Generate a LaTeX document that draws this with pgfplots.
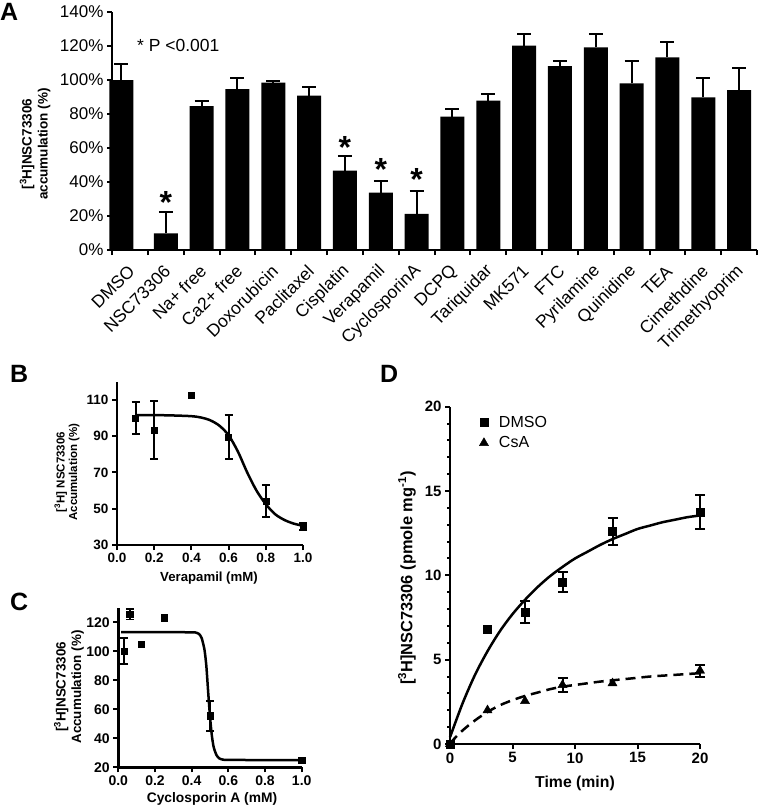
\documentclass[border=0pt]{standalone}
\usepackage{pgfplots}
\pgfplotsset{compat=1.18}
\usepackage{fontspec}
\setmainfont{Liberation Sans}
\newcommand\fs[1]{\fontsize{#1}{#1}\selectfont}
\begin{document}
\begin{tikzpicture}
\useasboundingbox (0pt,0pt) rectangle (760pt,-806pt);
\pgfplotsset{
  gp/.style={scale only axis, anchor=south west, axis lines=left,
    axis line style={-, line width=2.4pt, black},
    tick align=outside, major tick length=5pt, minor tick length=3pt,
    tick style={line width=2pt, black},
    /pgf/number format/assume math mode=true, clip=false},
}
% ---------------- Panel A ----------------
\begin{axis}[gp, at={(112pt,-250pt)}, width=645pt, height=238pt,
  xmin=-0.5, xmax=17.5, ymin=0, ymax=140,
  ytick={0,20,40,60,80,100,120,140},
  yticklabels={0\%,20\%,40\%,60\%,80\%,100\%,120\%,140\%},
  xtick={-0.5,0.5,1.5,2.5,3.5,4.5,5.5,6.5,7.5,8.5,9.5,10.5,11.5,12.5,13.5,14.5,15.5,16.5,17.5},
  xticklabels={DMSO,NSC73306,Na+ free,Ca2+ free,Doxorubicin,Paclitaxel,Cisplatin,Verapamil,CyclosporinA,DCPQ,Tariquidar,MK571,FTC,Pyrilamine,Quinidine,TEA,Cimethdine,Trimethyoprim,{}},
  yticklabel style={font=\fs{17}},
  xticklabel style={font=\fs{17.5}, xshift=22pt, yshift=-11pt, rotate=45, anchor=east},
]
\addplot[ybar, bar width=24pt, fill=black, draw=none,
  error bars/.cd, y dir=plus, y explicit,
  error bar style={line width=2pt, draw=black},
  error mark options={rotate=90, draw=black, line width=2pt, mark size=7pt}]
coordinates {
(-0.24,100) +- (0,9.4)
(1,9.8) +- (0,12.5)
(2,84.7) +- (0,3)
(3,94.7) +- (0,6.3)
(4,98.5) +- (0,1.2)
(5,90.8) +- (0,5.3)
(6,46.7) +- (0,8.6)
(7,33.7) +- (0,7.1)
(8,21.2) +- (0,13.5)
(9,78.4) +- (0,4.5)
(10,87.8) +- (0,4.2)
(11,120.2) +- (0,6.7)
(12,108.2) +- (0,3)
(13,119.2) +- (0,7.7)
(14,98) +- (0,13.2)
(15,113.3) +- (0,9.2)
(16,89.8) +- (0,11.4)
(17,94.1) +- (0,13.2)
};
\node[font=\bfseries\fs{32}, inner sep=0, anchor=base] at (axis cs:1,21.6) {*};
\node[font=\bfseries\fs{32}, inner sep=0, anchor=base] at (axis cs:6,53.9) {*};
\node[font=\bfseries\fs{32}, inner sep=0, anchor=base] at (axis cs:7,41) {*};
\node[font=\bfseries\fs{32}, inner sep=0, anchor=base] at (axis cs:8,35.2) {*};
\end{axis}
% ---------------- Panel B ----------------
\begin{axis}[gp, at={(117pt,-545pt)}, width=186pt, height=163.3pt,
  xmin=0, xmax=1, ymin=30, ymax=120,
  xtick={0,0.2,0.4,0.6,0.8,1}, xticklabels={0.0,0.2,0.4,0.6,0.8,1.0},
  ytick={30,50,70,90,110},
  tick label style={font=\bfseries\fs{13.5}},
]
\addplot[line width=2.5pt, smooth, black] coordinates {
(0.1,101.6) (0.2,101.6) (0.3,101.4) (0.4,101) (0.45,100.3) (0.5,98.8) (0.55,95.8)
(0.6,90.5) (0.65,81.5) (0.7,70) (0.75,60) (0.8,52.5) (0.85,47) (0.9,43.8) (0.95,41.8) (1.0,40.6)};
\addplot[only marks, mark=square*, mark size=3pt, black,
  error bars/.cd, y dir=both, y explicit,
  error bar style={line width=2pt}, error mark options={rotate=90, line width=2pt, mark size=4pt}]
coordinates {(0.1,100) +- (0,9) (0.2,93.4) +- (0,16.2) (0.6,89.5) +- (0,12) (0.8,54.2) +- (0,9) (1,40.1) +- (0,2)};
\addplot[only marks, mark=square*, mark size=3pt, black] coordinates {(0.4,112.3)};
\end{axis}
% ---------------- Panel C ----------------
\begin{axis}[gp, at={(118.3pt,-767.3pt)}, width=183.4pt, height=159.5pt,
  xmin=0, xmax=1, ymin=20, ymax=130,
  xtick={0,0.2,0.4,0.6,0.8,1}, xticklabels={0.0,0.2,0.4,0.6,0.8,1.0},
  ytick={20,40,60,80,100,120},
  tick label style={font=\bfseries\fs{14}},
]
\addplot[line width=2.5pt, smooth, tension=0.4, black] coordinates {
(0.015,113.2) (0.1,113.2) (0.2,113.2) (0.3,113.2) (0.4,113.1) (0.42,113) (0.44,112) (0.455,109)
(0.47,101) (0.48,90) (0.49,72) (0.5,55) (0.51,42) (0.52,34) (0.535,28.5) (0.55,26.2) (0.57,25.3)
(0.6,25.1) (0.8,25) (1,25)};
\addplot[only marks, mark=square*, mark size=3.3pt, black,
  error bars/.cd, y dir=both, y explicit,
  error bar style={line width=1.8pt}, error mark options={rotate=90, line width=1.8pt, mark size=4pt}]
coordinates {(0.03125,100) +- (0,9) (0.0625,125.5) +- (0,3.5) (0.5,55.4) +- (0,10.5)};
\addplot[only marks, mark=square*, mark size=3.3pt, black] coordinates {(0.125,104.8) (0.25,123.2) (1,25)};
\end{axis}
% ---------------- Panel D ----------------
\begin{axis}[gp, at={(450pt,-744pt)}, width=250pt, height=337.3pt,
  xmin=0, xmax=20, ymin=0, ymax=20,
  xtick={0,5,10,15,20}, ytick={0,5,10,15,20}, minor y tick num=4,
  tick label style={font=\bfseries\fs{15}},
  legend style={at={(axis cs:2.3,19.58)}, anchor=north west, draw=none, fill=none,
    font=\fs{16}, row sep=4pt, inner sep=0pt},
  legend cell align=left,
  legend image code/.code={\draw[#1] plot coordinates {(5pt,0pt)}; \path[draw=none,fill=none] (0pt,0pt) -- (18pt,0pt);},
]
\addplot[line width=2.5pt, smooth, black, forget plot] coordinates {
(0,0.4) (1,2.4) (2,4.1) (3,5.5) (4,6.7) (5,7.7) (6,8.55) (7,9.3) (8,9.95) (9,10.5) (10,11.0)
(11,11.4) (12,11.8) (13,12.15) (14,12.45) (15,12.75) (16,12.95) (17,13.15) (18,13.3) (19,13.45) (20,13.55)};
\addplot[line width=2.5pt, smooth, black, dash pattern=on 10pt off 6pt, forget plot] coordinates {
(0,0.05) (1,0.8) (2,1.4) (3,1.9) (4,2.3) (5,2.6) (6,2.85) (7,3.05) (8,3.25) (9,3.4) (10,3.5)
(12,3.7) (14,3.85) (16,4.0) (18,4.1) (20,4.2)};
\addplot[only marks, mark=square*, mark size=4pt, black,
  error bars/.cd, y dir=both, y explicit,
  error bar style={line width=2pt}, error mark options={rotate=90, line width=2pt, mark size=5pt}]
coordinates {(6,7.8) +- (0,0.65) (9,9.62) +- (0,0.6) (13,12.59) +- (0,0.8) (20,13.74) +- (0,1)};
\addlegendentry{DMSO}
\addplot[only marks, mark=square*, mark size=4pt, black, forget plot] coordinates {(0,0) (3,6.82)};
\addplot[only marks, mark=triangle*, mark size=5.3pt, black,
  error bars/.cd, y dir=both, y explicit,
  error bar style={line width=2pt}, error mark options={rotate=90, line width=2pt, mark size=5pt}]
coordinates {(9,3.5) +- (0,0.4) (20,4.35) +- (0,0.35)};
\addlegendentry{CsA}
\addplot[only marks, mark=triangle*, mark size=5.3pt, black, forget plot] coordinates {(0,0) (3,2.0) (6,2.55) (13,3.6)};
\end{axis}
% ---------------- Labels ----------------
\node[anchor=base west, inner sep=0, font=\bfseries\fs{25}] at (0pt,-20pt) {A};
\node[anchor=base west, inner sep=0, font=\bfseries\fs{25}] at (10pt,-382pt) {B};
\node[anchor=base west, inner sep=0, font=\bfseries\fs{25}] at (10pt,-610pt) {C};
\node[anchor=base west, inner sep=0, font=\bfseries\fs{25}] at (380pt,-382pt) {D};
\node[anchor=base west, inner sep=0, font=\fs{17.5}] at (137pt,-51.7pt) {* P <0.001};
\node[rotate=90, align=center, font=\bfseries\fontsize{13.5}{16}\selectfont] at (35pt,-144pt) {[\textsuperscript{3}H]NSC73306\\accumulation (\%)};
\node[rotate=90, align=center, font=\bfseries\fontsize{11.5}{12.5}\selectfont] at (67pt,-472pt) {[\textsuperscript{3}H] NSC73306\\Accumulation (\%)};
\node[rotate=90, align=center, font=\bfseries\fontsize{13.4}{15.5}\selectfont] at (69pt,-687pt) {[\textsuperscript{3}H]NSC73306\\Accumulation (\%)};
\node[rotate=90, font=\bfseries\fs{16.4}] at (407pt,-578pt) {[\textsuperscript{3}H]NSC73306 (pmole mg\textsuperscript{-1})};
\node[font=\bfseries\fs{13.2}] at (209pt,-578pt) {Verapamil (mM)};
\node[font=\bfseries\fs{13.8}] at (212pt,-799pt) {Cyclosporin A (mM)};
\node[font=\bfseries\fs{15.8}] at (575pt,-783pt) {Time (min)};
\end{tikzpicture}
\end{document}
